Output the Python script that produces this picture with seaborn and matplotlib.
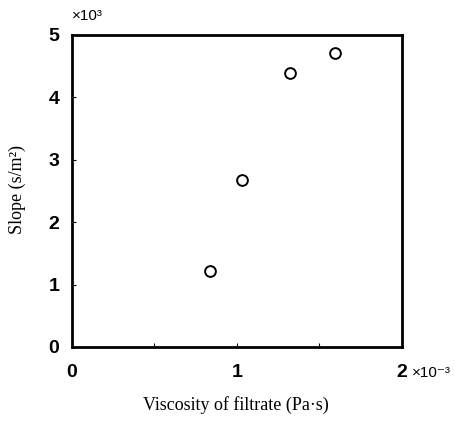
import matplotlib
matplotlib.use("Agg")
import matplotlib.pyplot as plt
import seaborn as sns
import pandas as pd

viscosity = [0.836, 1.03, 1.32, 1.594]   # x10^-3 Pa·s
slope = [1.21, 2.68, 4.39, 4.71]         # x10^3 s/m^2
x_ticks = [0, 1, 2]
y_ticks = [0, 1, 2, 3, 4, 5]

sns.set_style("white")
plt.rcParams["text.color"] = "black"
plt.rcParams["axes.labelcolor"] = "black"
plt.rcParams["xtick.color"] = "black"
plt.rcParams["ytick.color"] = "black"
df = pd.DataFrame({"visc": viscosity, "slope": slope})

fig = plt.figure(figsize=(4.55, 4.21), dpi=100)
ax = fig.add_axes([0.158, 0.176, 0.7255, 0.741])
sns.scatterplot(data=df, x="visc", y="slope", ax=ax, marker="o", s=60,
                facecolor="white", edgecolor="black", linewidth=1.4, legend=False)
ax.set_xlim(0, 2)
ax.set_ylim(0, 5)
ax.set_xticks(x_ticks)
ax.set_yticks(y_ticks)
ax.set_xticks([0.5, 1.5], minor=True)
tick_font = dict(family="Liberation Sans", weight="bold", size=14)
ax.set_xticklabels([str(t) for t in x_ticks], fontdict=tick_font)
ax.set_yticklabels([str(t) for t in y_ticks], fontdict=tick_font)
ax.tick_params(axis="both", which="both", direction="in", length=3, width=0.8,
               left=True, bottom=True)
ax.tick_params(axis="y", pad=9)
ax.tick_params(axis="x", pad=12)
for sp in ax.spines.values():
    sp.set_linewidth(2)
    sp.set_color("black")
ax.set_xlabel("Viscosity of filtrate (Pa\u00b7s)", family="Liberation Serif", size=13,
              va="center")
ax.xaxis.set_label_coords(0.497, -0.186)
ax.set_ylabel("Slope (s/m\u00b2)", family="Liberation Serif", size=13, va="center")
ax.yaxis.set_label_coords(-0.164, 0.503)
fig.text(0.158, 0.962, "\u00d710\u00b3", family=["Liberation Sans", "DejaVu Sans"],
         size=11, ha="left", va="center")
fig.text(0.906, 0.114, "\u00d710\u207b\u00b3", family=["Liberation Sans", "DejaVu Sans"],
         size=11, ha="left", va="center")
fig.savefig("out.png", dpi=100)
